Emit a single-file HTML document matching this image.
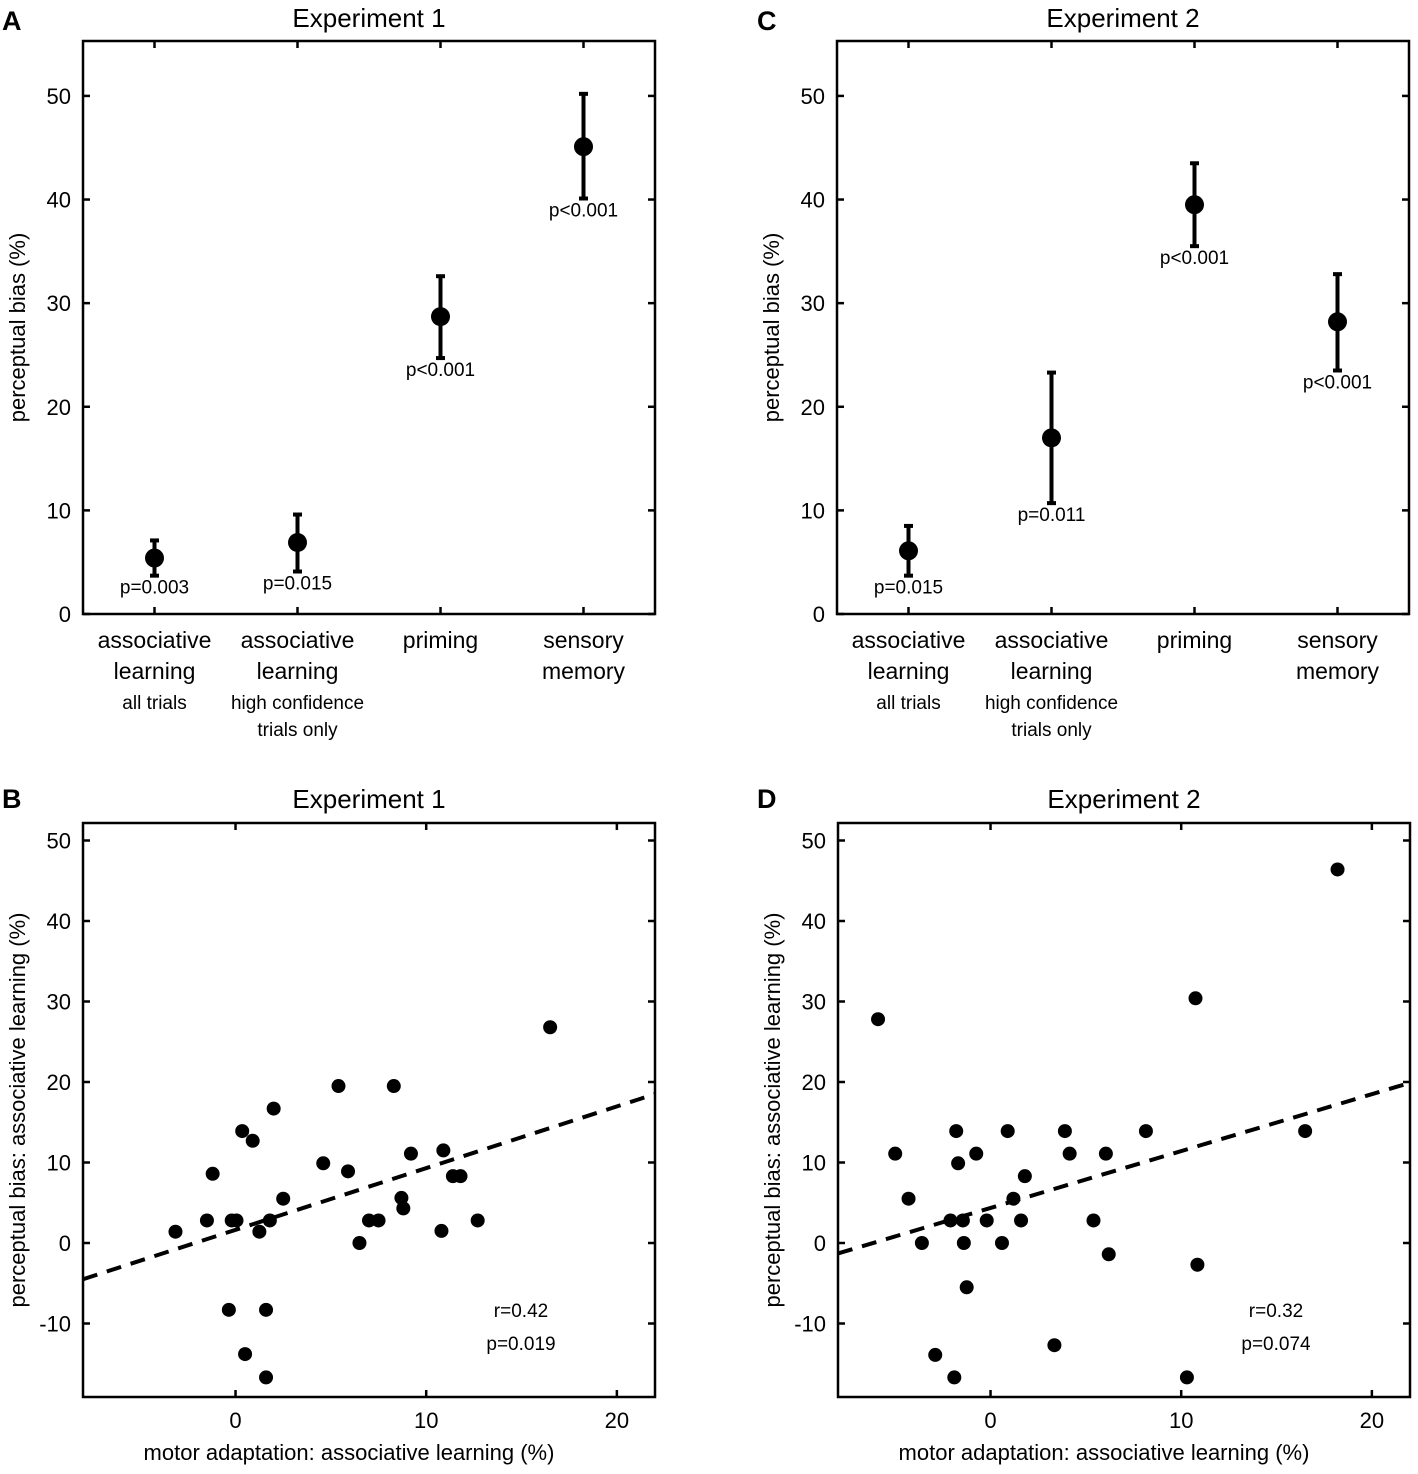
<!DOCTYPE html>
<html><head><meta charset="utf-8"><style>
body{margin:0;background:#fff}
svg text{font-family:"Liberation Sans",Arial,sans-serif;fill:#000}
</style></head><body>
<svg id="fig" width="1418" height="1469" viewBox="0 0 1418 1469" xmlns="http://www.w3.org/2000/svg"></svg>
<script>
const catsTop=["associative learning all","associative learning high","priming","sensory memory"];
const exp1Mean=[5.4,6.9,28.7,45.1];
const exp1Lo=[3.7,4.1,24.7,40.1];
const exp1Hi=[7.1,9.6,32.6,50.2];
const exp1P=["p=0.003","p=0.015","p<0.001","p<0.001"];
const exp2Mean=[6.1,17.0,39.5,28.2];
const exp2Lo=[3.7,10.7,35.5,23.5];
const exp2Hi=[8.5,23.3,43.5,32.8];
const exp2P=["p=0.015","p=0.011","p<0.001","p<0.001"];
const yTicksTop=[0,10,20,30,40,50];
const xTicksBot=[0,10,20];
const yTicksBot=[-10,0,10,20,30,40,50];
const bX=[-3.15,-1.5,-1.2,-0.2,0.05,-0.35,0.35,0.9,0.5,1.25,1.6,1.6,1.8,2.0,2.5,4.6,5.4,5.9,6.5,7.0,7.5,8.3,8.7,8.8,9.2,10.8,10.9,11.4,11.8,12.7,16.5];
const bY=[1.4,2.8,8.6,2.8,2.8,-8.3,13.9,12.7,-13.8,1.4,-8.3,-16.7,2.8,16.7,5.5,9.9,19.5,8.9,0,2.8,2.8,19.5,5.6,4.3,11.1,1.5,11.5,8.3,8.3,2.8,26.8];
const bFit=[-4.5,18.5];
const dX=[-5.9,-5.0,-4.3,-3.6,-2.9,-2.1,-1.9,-1.8,-1.7,-1.45,-1.4,-1.25,-0.75,-0.2,0.6,0.9,1.2,1.6,1.8,3.35,3.9,4.15,5.4,6.05,6.2,8.15,10.3,10.75,10.85,16.5,18.2];
const dY=[27.8,11.1,5.5,0,-13.9,2.8,-16.7,13.9,9.9,2.8,0,-5.5,11.1,2.8,0,13.9,5.5,2.8,8.3,-12.7,13.9,11.1,2.8,11.1,-1.4,13.9,-16.7,30.4,-2.7,13.9,46.4];
const dFit=[-1.3,19.9];
const fitX=[-8,22];

const NS="http://www.w3.org/2000/svg";
const svg=document.getElementById('fig');
function mk(tag,attrs,parent,txt){const e=document.createElementNS(NS,tag);for(const k in attrs)e.setAttribute(k,attrs[k]);if(txt!==undefined)e.textContent=txt;(parent||svg).appendChild(e);return e;}

function frame(g,L,R,T,B){
  const r=mk('rect',{x:L,y:T,width:R-L,height:B-T,fill:'none',stroke:'#000','stroke-width':2.5},g);
  
  
}

function topPanel(letter,lx,title,L,means,lo,hi,ps,name){
  const g=mk('g',{});
  
  
  const R=L+572,T=41,B=614;
  const xs=i=>L+71.5+i*143;
  const ys=v=>B-(v/55.3)*(B-T);
  frame(g,L,R,T,B);
  const pl=mk('text',{x:lx,y:30,'font-size':27,'font-weight':'bold'},g,letter);
  
  
  const tt=mk('text',{x:(L+R)/2,y:27,'font-size':26,'text-anchor':'middle'},g,title);
  
  
  yTicksTop.forEach(v=>{
    const y=ys(v);
    mk('line',{x1:L,x2:L+7,y1:y,y2:y,stroke:'#000','stroke-width':2.5},g);
    mk('line',{x1:R,x2:R-7,y1:y,y2:y,stroke:'#000','stroke-width':2.5},g);
    const t=mk('text',{x:L-12,y:y+8,'font-size':22,'text-anchor':'end'},g,String(v));
    
    
  });
  catsTop.forEach((c,i)=>{
    const x=xs(i);
    mk('line',{x1:x,x2:x,y1:B,y2:B-7,stroke:'#000','stroke-width':2.5},g);
    mk('line',{x1:x,x2:x,y1:T,y2:T+7,stroke:'#000','stroke-width':2.5},g);
  });
  const lab=[["associative","learning"],["associative","learning"],["priming"],["sensory","memory"]];
  const sub=[["all trials"],["high confidence","trials only"],[],[]];
  lab.forEach((ls,i)=>{ls.forEach((s,j)=>{const t=mk('text',{x:xs(i),y:648+j*31,'font-size':23,'text-anchor':'middle'},g,s);
    
    });
    sub[i].forEach((s,j)=>{const t=mk('text',{x:xs(i),y:709+j*27,'font-size':19,'text-anchor':'middle'},g,s);
    
    });
  });
  const yl=mk('text',{x:0,y:0,'font-size':22,'text-anchor':'middle',transform:`translate(${L-58},${(T+B)/2}) rotate(-90)`},g,'perceptual bias (%)');
  
  
  means.forEach((m,i)=>{
    const x=xs(i);
    const eb=mk('g',{},g);
    
    
    mk('line',{x1:x,x2:x,y1:ys(lo[i]),y2:ys(hi[i]),stroke:'#000','stroke-width':4},eb);
    mk('line',{x1:x-4.5,x2:x+4.5,y1:ys(lo[i]),y2:ys(lo[i]),stroke:'#000','stroke-width':4},eb);
    mk('line',{x1:x-4.5,x2:x+4.5,y1:ys(hi[i]),y2:ys(hi[i]),stroke:'#000','stroke-width':4},eb);
    const c=mk('circle',{cx:x,cy:ys(m),r:9.5,fill:'#000'},g);
    
    
    const p=mk('text',{x:x,y:ys(lo[i])+18,'font-size':19,'text-anchor':'middle'},g,ps[i]);
    
    
  });
}

function botPanel(letter,lx,title,L,X,Y,fit,r,p,name){
  const g=mk('g',{});
  
  
  const R=L+572,T=823,B=1397;
  const xs=v=>L+((v+8)/30)*(R-L);
  const ys=v=>1243-v*8.05;
  frame(g,L,R,T,B);
  const pl=mk('text',{x:lx,y:808,'font-size':27,'font-weight':'bold'},g,letter);
  
  
  const tt=mk('text',{x:(L+R)/2,y:808,'font-size':26,'text-anchor':'middle'},g,title);
  
  
  yTicksBot.forEach(v=>{
    const y=ys(v);
    mk('line',{x1:L,x2:L+7,y1:y,y2:y,stroke:'#000','stroke-width':2.5},g);
    mk('line',{x1:R,x2:R-7,y1:y,y2:y,stroke:'#000','stroke-width':2.5},g);
    const t=mk('text',{x:L-12,y:y+8,'font-size':22,'text-anchor':'end'},g,String(v));
    
    
  });
  xTicksBot.forEach(v=>{
    const x=xs(v);
    mk('line',{x1:x,x2:x,y1:B,y2:B-7,stroke:'#000','stroke-width':2.5},g);
    mk('line',{x1:x,x2:x,y1:T,y2:T+7,stroke:'#000','stroke-width':2.5},g);
    const t=mk('text',{x:x,y:B+31,'font-size':22,'text-anchor':'middle'},g,String(v));
    
    
  });
  const xl=mk('text',{x:(L+R)/2-20,y:1460,'font-size':22,'text-anchor':'middle'},g,'motor adaptation: associative learning (%)');
  
  
  const yl=mk('text',{x:0,y:0,'font-size':22,'text-anchor':'middle',transform:`translate(${L-58},${(T+B)/2}) rotate(-90)`},g,'perceptual bias: associative learning (%)');
  
  
  const fl=mk('line',{x1:xs(fitX[0]),x2:xs(fitX[1]),y1:ys(fit[0]),y2:ys(fit[1]),stroke:'#000','stroke-width':4,'stroke-dasharray':'15 10'},g);
  
  
  X.forEach((v,i)=>{
    const c=mk('circle',{cx:xs(v),cy:ys(Y[i]),r:7,fill:'#000'},g);
    
    
  });
  const t1=mk('text',{x:L+438,y:1317,'font-size':19,'text-anchor':'middle'},g,r);
  
  
  const t2=mk('text',{x:L+438,y:1350,'font-size':19,'text-anchor':'middle'},g,p);
  
  
}

topPanel('A',2,'Experiment 1',83,exp1Mean,exp1Lo,exp1Hi,exp1P,'panel-a');
topPanel('C',757,'Experiment 2',837,exp2Mean,exp2Lo,exp2Hi,exp2P,'panel-c');
botPanel('B',2,'Experiment 1',83,bX,bY,bFit,'r=0.42','p=0.019','panel-b');
botPanel('D',757,'Experiment 2',838,dX,dY,dFit,'r=0.32','p=0.074','panel-d');
</script>
</body></html>
